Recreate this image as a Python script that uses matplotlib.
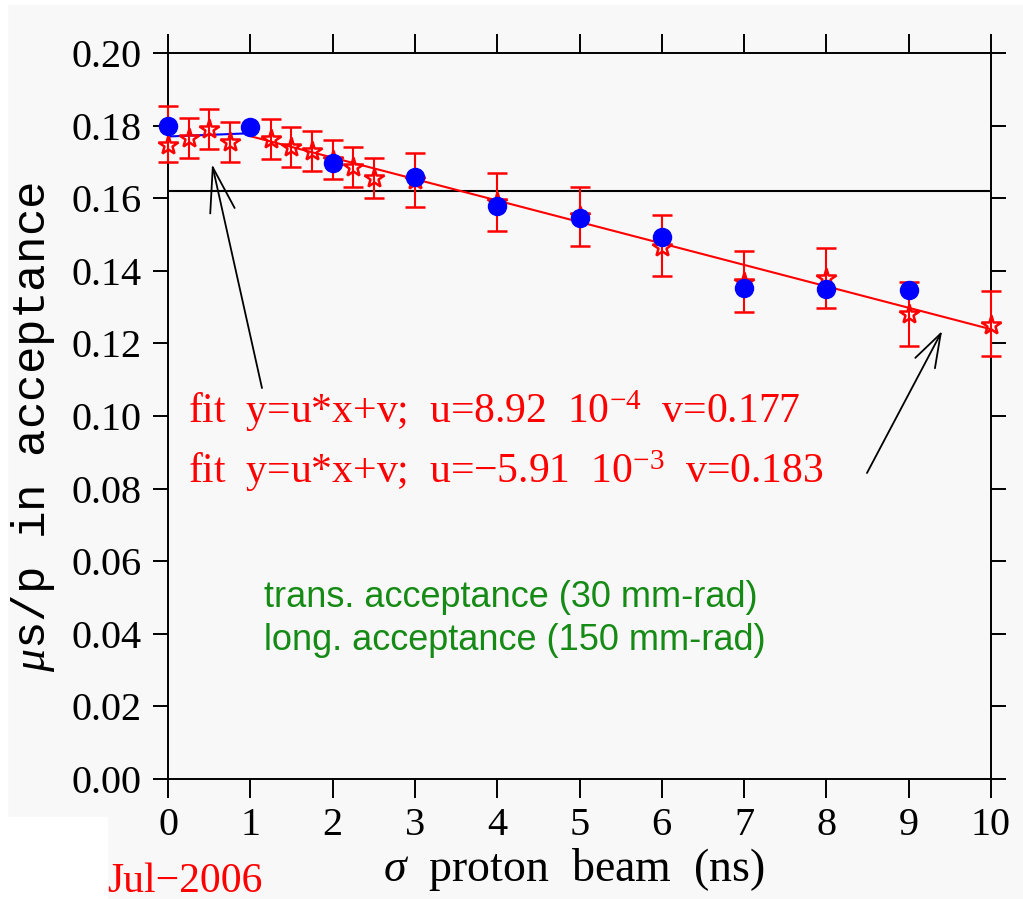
import matplotlib
matplotlib.use("Agg")
import matplotlib.pyplot as plt
from matplotlib.patches import Rectangle
import numpy as np

plt.rcParams['font.family'] = 'Liberation Serif'
plt.rcParams['mathtext.fontset'] = 'custom'
plt.rcParams['mathtext.rm'] = 'Liberation Serif'
plt.rcParams['mathtext.it'] = 'Liberation Serif:italic'

# blue points (trans. acceptance)
blue_x = [0, 1, 2, 3, 4, 5, 6, 7, 8, 9]
blue_y = [0.180, 0.1797, 0.1698, 0.1658, 0.1579, 0.1545, 0.1493, 0.1353, 0.1350, 0.1347]

# red stars with error bars
red_x = [0, 0.25, 0.5, 0.75, 1.25, 1.5, 1.75, 2, 2.25, 2.5, 3, 4, 5, 6, 7, 8, 9, 10]
red_y = [0.1747, 0.1765, 0.1792, 0.1755, 0.1762, 0.1740, 0.1729, 0.1705, 0.1687, 0.1656,
         0.1650, 0.1590, 0.1550, 0.1465, 0.1370, 0.1380, 0.1280, 0.1250]
red_err_lo = [0.0048, 0.0053, 0.0056, 0.0055, 0.0053, 0.0055, 0.0054, 0.0052, 0.0055, 0.0055,
              0.0074, 0.0079, 0.0082, 0.0078, 0.0084, 0.0083, 0.0088, 0.0085]
red_err_hi = [0.0107, 0.0057, 0.0054, 0.0055, 0.0055, 0.0055, 0.0055, 0.0055, 0.0055, 0.0055,
              0.0074, 0.0079, 0.0082, 0.0090, 0.0084, 0.0083, 0.0088, 0.0095]

# fit parameters
u1, v1 = 8.92e-4, 0.177
u2, v2 = -5.91e-3, 0.183
fit1_x = np.array([0, 1])
fit2_x = np.array([1, 10])
ref_level = 0.162

bg = '#f8f8f8'
fig = plt.figure(figsize=(10.23, 8.99), dpi=100, facecolor=bg)
# white margins of the scanned picture
fig.patches.append(Rectangle((0, 0), 7/1023, 1, transform=fig.transFigure, color='white', zorder=0))
fig.patches.append(Rectangle((0, 1-4/899), 1, 4/899, transform=fig.transFigure, color='white', zorder=0))
fig.patches.append(Rectangle((0, 0), 107/1023, 82/899, transform=fig.transFigure, color='white', zorder=0))

ax = fig.add_axes([168/1023, 1-779/899, (991-168)/1023, (779-53)/899], facecolor=bg)

ax.axhline(ref_level, color='black', lw=1.5, zorder=1)
ax.plot(fit1_x, u1*fit1_x + v1, color='blue', lw=1.5, zorder=2)
ax.plot(fit2_x, u2*fit2_x + v2, color='red', lw=1.5, zorder=2)

eb = ax.errorbar(red_x, red_y, yerr=[red_err_lo, red_err_hi], fmt='*', color='red',
                 mfc='none', mec='red', ms=15, mew=1.8, ecolor='red', elinewidth=1.5,
                 capsize=7, capthick=1.5, zorder=3)
for part in eb.lines[0:1] + tuple(eb.lines[1]) + tuple(eb.lines[2]):
    part.set_clip_on(False)
ax.plot(blue_x, blue_y, 'o', color='blue', ms=13, zorder=4, clip_on=False)

ax.set_xlim(0, 10)
ax.set_ylim(0, 0.20)
ax.set_xticks(range(0, 11))
ax.set_yticks(np.arange(0, 0.201, 0.02))
ax.set_yticklabels([f"{v:.2f}" for v in np.arange(0, 0.201, 0.02)])
ax.tick_params(axis='x', direction='out', length=14, width=1.4, labelsize=29, pad=6,
               top=True, labeltop=False)
ax.tick_params(axis='y', direction='out', length=11, width=1.4, labelsize=29, pad=8,
               right=True, labelright=False)
for s in ax.spines.values():
    s.set_linewidth(1.4)

ax.text(0.243, 0.0981, r"fit  y=u*x+v;  u=8.92  10$^{-4}$  v=0.177", color='red', fontsize=30,
        ha='left', va='baseline')
ax.text(0.243, 0.0815, "fit  y=u*x+v;  u=\u22125.91  10$^{-3}$  v=0.183", color='red', fontsize=30,
        ha='left', va='baseline')

ax.text(1.17, 0.0475, "trans. acceptance (30 mm-rad)", color='#158a15', fontsize=26,
        family='Liberation Sans', ha='left', va='baseline')
ax.text(1.17, 0.0355, "long. acceptance (150 mm-rad)", color='#158a15', fontsize=26,
        family='Liberation Sans', ha='left', va='baseline')

arrow = dict(arrowstyle='->, head_length=1.6, head_width=0.45', color='black', lw=1.3,
             mutation_scale=20, shrinkA=0, shrinkB=0)
ax.annotate("", xy=(0.535, 0.1694), xytext=(1.142, 0.1077), arrowprops=arrow)
arrow2 = dict(arrow)
arrow2['arrowstyle'] = '->, head_length=1.2, head_width=0.4'
ax.annotate("", xy=(9.405, 0.1234), xytext=(8.493, 0.0843), arrowprops=arrow2)

fig.text(383/1023, 1-881/899, r"$\sigma$  proton  beam  (ns)", fontsize=33, ha='left', va='baseline')
fig.text(33/1023, 1-427/899, r"$\mu$s/p in acceptance", fontsize=33, rotation=90,
         family='Liberation Mono', ha='center', va='center')
fig.text(107/1023, 1-892/899, "Jul\u22122006", color='red', fontsize=30, ha='left', va='baseline')

fig.savefig("out.png", dpi=100, facecolor=fig.get_facecolor())
